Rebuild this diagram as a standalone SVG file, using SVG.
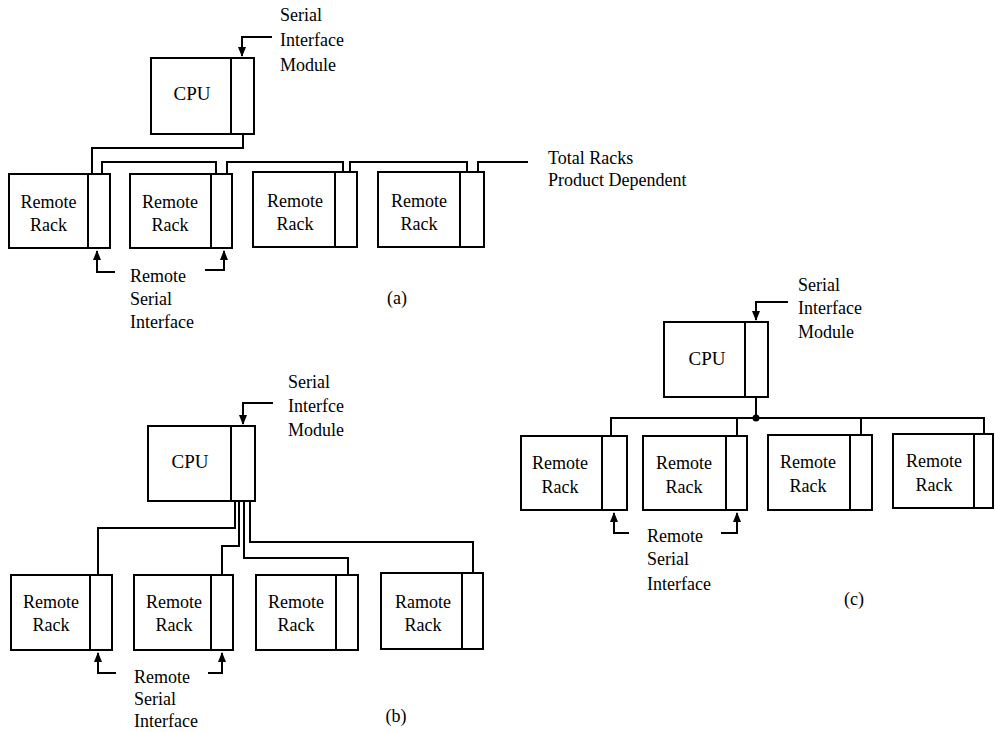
<svg xmlns="http://www.w3.org/2000/svg" width="995" height="732" viewBox="0 0 995 732">
<style>
.box{fill:#fff;stroke:#000;stroke-width:2}
.div{stroke:#000;stroke-width:2}
.ln{fill:none;stroke:#000;stroke-width:2}
.t{font-family:'Liberation Serif','DejaVu Serif','Times New Roman',serif;font-size:18px;fill:#000}
.c{text-anchor:middle}
.cpu{font-size:19px}
</style>
<defs>
<marker id="ah" viewBox="0 0 10 8" refX="9" refY="4" markerWidth="10" markerHeight="8" markerUnits="userSpaceOnUse" orient="auto">
<path d="M0,0 L10,4 L0,8 z" fill="#000"/>
</marker>
</defs>
<rect width="995" height="732" fill="#fff"/>

<!-- (a) -->
<g id="a-cpu"><rect class="box" x="151" y="58" width="103" height="76"/><line class="div" x1="231" y1="58" x2="231" y2="134"/><text class="t c cpu" font-family="Liberation Serif, serif" x="192" y="100">CPU</text></g>
<g id="a-rack1" class="t" font-family="Liberation Serif, serif"><rect class="box" x="9" y="174" width="101" height="74"/><line class="div" x1="88" y1="174" x2="88" y2="248"/><text class="c" x="48.5" y="208">Remote</text><text class="c" x="48.5" y="231">Rack</text></g>
<g id="a-rack2" class="t" font-family="Liberation Serif, serif"><rect class="box" x="130" y="174" width="102" height="74"/><line class="div" x1="211" y1="174" x2="211" y2="248"/><text class="c" x="170" y="208">Remote</text><text class="c" x="170" y="231">Rack</text></g>
<g id="a-rack3" class="t" font-family="Liberation Serif, serif"><rect class="box" x="253" y="172" width="104" height="75"/><line class="div" x1="335" y1="172" x2="335" y2="247"/><text class="c" x="295" y="207">Remote</text><text class="c" x="295" y="230">Rack</text></g>
<g id="a-rack4" class="t" font-family="Liberation Serif, serif"><rect class="box" x="378" y="172" width="106" height="75"/><line class="div" x1="460" y1="172" x2="460" y2="247"/><text class="c" x="419" y="207">Remote</text><text class="c" x="419" y="230">Rack</text></g>
<g id="a-labels" class="t" font-family="Liberation Serif, serif">
<text x="280" y="21">Serial</text><text x="280" y="46">Interface</text><text x="280" y="71">Module</text>
<text x="548" y="164">Total Racks</text><text x="548" y="186">Product Dependent</text>
<text x="130" y="282">Remote</text><text x="130" y="305">Serial</text><text x="130" y="328">Interface</text>
<text class="c" x="397" y="304">(a)</text>
</g>

<!-- (b) -->
<g id="b-cpu"><rect class="box" x="148" y="426" width="107" height="75"/><line class="div" x1="231" y1="426" x2="231" y2="501"/><text class="t c cpu" font-family="Liberation Serif, serif" x="190" y="468">CPU</text></g>
<g id="b-rack1" class="t" font-family="Liberation Serif, serif"><rect class="box" x="11" y="575" width="101" height="75"/><line class="div" x1="90" y1="575" x2="90" y2="650"/><text class="c" x="51" y="608">Remote</text><text class="c" x="51" y="631">Rack</text></g>
<g id="b-rack2" class="t" font-family="Liberation Serif, serif"><rect class="box" x="134" y="575" width="99" height="75"/><line class="div" x1="211" y1="575" x2="211" y2="650"/><text class="c" x="174" y="608">Remote</text><text class="c" x="174" y="631">Rack</text></g>
<g id="b-rack3" class="t" font-family="Liberation Serif, serif"><rect class="box" x="256" y="575" width="102" height="75"/><line class="div" x1="336" y1="575" x2="336" y2="650"/><text class="c" x="296" y="608">Remote</text><text class="c" x="296" y="631">Rack</text></g>
<g id="b-rack4" class="t" font-family="Liberation Serif, serif"><rect class="box" x="381" y="573" width="102" height="76"/><line class="div" x1="462" y1="573" x2="462" y2="649"/><text class="c" x="423" y="608">Ramote</text><text class="c" x="423" y="631">Rack</text></g>
<g id="b-labels" class="t" font-family="Liberation Serif, serif">
<text x="288" y="388">Serial</text><text x="288" y="412">Interfce</text><text x="288" y="436">Module</text>
<text x="134" y="683">Remote</text><text x="134" y="705">Serial</text><text x="134" y="727">Interface</text>
<text class="c" x="396" y="722">(b)</text>
</g>

<!-- (c) -->
<g id="c-cpu"><rect class="box" x="664" y="322" width="104" height="75"/><line class="div" x1="745" y1="322" x2="745" y2="397"/><text class="t c cpu" font-family="Liberation Serif, serif" x="707" y="365">CPU</text></g>
<g id="c-rack1" class="t" font-family="Liberation Serif, serif"><rect class="box" x="521" y="436" width="106" height="74"/><line class="div" x1="602" y1="436" x2="602" y2="510"/><text class="c" x="560" y="469">Remote</text><text class="c" x="560" y="493">Rack</text></g>
<g id="c-rack2" class="t" font-family="Liberation Serif, serif"><rect class="box" x="643" y="436" width="104" height="74"/><line class="div" x1="726" y1="436" x2="726" y2="510"/><text class="c" x="684" y="469">Remote</text><text class="c" x="684" y="493">Rack</text></g>
<g id="c-rack3" class="t" font-family="Liberation Serif, serif"><rect class="box" x="768" y="435" width="104" height="75"/><line class="div" x1="850" y1="435" x2="850" y2="510"/><text class="c" x="808" y="468">Remote</text><text class="c" x="808" y="492">Rack</text></g>
<g id="c-rack4" class="t" font-family="Liberation Serif, serif"><rect class="box" x="893" y="434" width="100" height="74"/><line class="div" x1="974" y1="434" x2="974" y2="508"/><text class="c" x="934" y="467">Remote</text><text class="c" x="934" y="491">Rack</text></g>
<g id="c-labels" class="t" font-family="Liberation Serif, serif">
<text x="798" y="291">Serial</text><text x="798" y="314">Interface</text><text x="798" y="338">Module</text>
<text x="647" y="542">Remote</text><text x="647" y="565">Serial</text><text x="647" y="590">Interface</text>
<text class="c" x="854" y="605">(c)</text>
</g>

<g id="connectors">
<!-- (a) -->
<path class="ln" d="M272,37 H242 V56" marker-end="url(#ah)"/>
<path class="ln" d="M243,134 V148 H92 V174"/>
<path class="ln" d="M102,174 V162 H216 V174"/>
<path class="ln" d="M227,174 V162 H343 V172"/>
<path class="ln" d="M350,172 V162 H467 V172"/>
<path class="ln" d="M478,172 V162 H528"/>
<path class="ln" d="M115,272 H97 V251" marker-end="url(#ah)"/>
<path class="ln" d="M205,270 H224 V251" marker-end="url(#ah)"/>
<!-- (b) -->
<path class="ln" d="M273,403 H243 V424" marker-end="url(#ah)"/>
<path class="ln" d="M235,501 V528 H98 V575"/>
<path class="ln" d="M239,501 V546 H222 V575"/>
<path class="ln" d="M244,501 V558 H348 V575"/>
<path class="ln" d="M250,501 V542 H473 V573"/>
<path class="ln" d="M116,673 H98 V653" marker-end="url(#ah)"/>
<path class="ln" d="M208,673 H222 V653" marker-end="url(#ah)"/>
<!-- (c) -->
<path class="ln" d="M788,302 H756 V320" marker-end="url(#ah)"/>
<path class="ln" d="M756,397 V418"/>
<path class="ln" d="M611,436 V418 H984 V434"/>
<path class="ln" d="M737,418 V436"/>
<path class="ln" d="M861,418 V435"/>
<circle cx="756" cy="418" r="3.5" fill="#000"/>
<path class="ln" d="M629,533 H614 V513" marker-end="url(#ah)"/>
<path class="ln" d="M721,533 H737 V513" marker-end="url(#ah)"/>
</g>
</svg>
